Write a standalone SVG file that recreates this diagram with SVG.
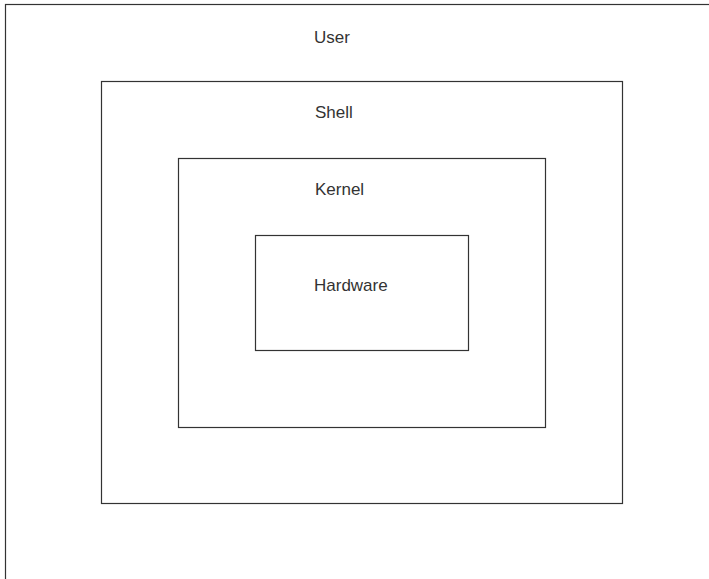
<svg xmlns="http://www.w3.org/2000/svg" width="709" height="579" viewBox="0 0 709 579">
<style>
.box{fill:none;stroke:#333;stroke-width:1.2}
.lbl{font-family:"Liberation Sans",Arial,sans-serif;font-size:17px;fill:#333}
</style>
<rect width="709" height="579" fill="#fff"/>
<g id="user">
<rect class="box" x="5.5" y="4.5" width="720" height="600"/>
<text class="lbl" x="314" y="43">User</text>
</g>
<g id="shell">
<rect class="box" x="101.5" y="81.5" width="521" height="422"/>
<text class="lbl" x="315" y="118">Shell</text>
</g>
<g id="kernel">
<rect class="box" x="178.5" y="158.5" width="367" height="269"/>
<text class="lbl" x="315" y="195">Kernel</text>
</g>
<g id="hardware">
<rect class="box" x="255.5" y="235.5" width="213" height="115"/>
<text class="lbl" x="314" y="291">Hardware</text>
</g>
<g id="connectors"/>
</svg>
